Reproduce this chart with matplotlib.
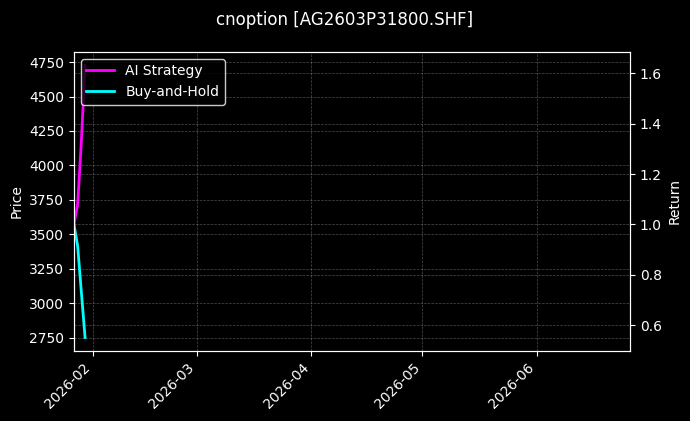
import matplotlib
matplotlib.use("Agg")
import matplotlib.pyplot as plt
import matplotlib.dates as mdates
import pandas as pd

plt.style.use("dark_background")

title = "cnoption [AG2603P31800.SHF]"
dates = pd.to_datetime(["2026-01-26 19:00", "2026-01-27 19:00", "2026-01-28 19:00", "2026-01-29 19:00"])
ai_strategy = [1.0, 1.08, 1.33, 1.632]
buy_and_hold = [1.0, 0.914, 0.731, 0.551]
price_limits = (2652, 4825)
x_limits = pd.to_datetime(["2026-01-26 19:00", "2026-06-26 04:00"])

fig = plt.figure(figsize=(6.9, 4.21), dpi=100)
ax = fig.add_axes([0.1072, 0.166, 0.8058, 0.711])
ax2 = ax.twinx()

ax.set_ylim(*price_limits)
ax.set_ylabel("Price")
ax.grid(True, linestyle="--", linewidth=0.5, alpha=0.3)

ax2.plot(dates, ai_strategy, color="magenta", linewidth=2, label="AI Strategy")
ax2.plot(dates, buy_and_hold, color="cyan", linewidth=2, label="Buy-and-Hold")
ax2.set_ylabel("Return")
ax2.grid(True, linestyle="--", linewidth=0.5, alpha=0.3)
ax2.set_xlim(x_limits[0], x_limits[1])

ax.xaxis.set_major_locator(mdates.MonthLocator())
ax.xaxis.set_major_formatter(mdates.DateFormatter("%Y-%m"))
for lbl in ax.get_xticklabels():
    lbl.set_rotation(45)
    lbl.set_ha("right")

leg = ax2.legend(loc="upper left", facecolor="black", edgecolor="white", framealpha=0.8)

fig.suptitle(title, fontsize=12, y=0.975)
fig.savefig("out.png", dpi=100, facecolor="black")
